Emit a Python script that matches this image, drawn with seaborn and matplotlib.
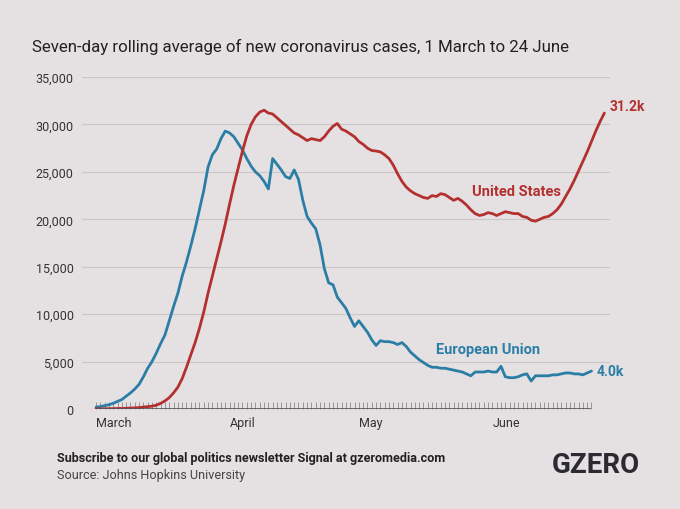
import pandas as pd
import matplotlib
matplotlib.use("Agg")
import matplotlib.pyplot as plt
import matplotlib.dates as mdates
import matplotlib.ticker as mticker
import seaborn as sns

# daily values, starting 1 March
eu_cases = [
    200, 250, 350, 450, 600, 800, 1000, 1350, 1700, 2100,
    2600, 3400, 4300, 5000, 5900, 6900, 7800, 9300, 10800, 12200,
    14000, 15500, 17200, 19000, 21000, 23000, 25500, 26800, 27400, 28500,
    29300, 29100, 28700, 28000, 27300, 26400, 25600, 25000, 24600, 24000,
    23200, 26400, 25800, 25200, 24500, 24300, 25200, 24200, 22000, 20300,
    19600, 19000, 17300, 14800, 13300, 13100, 11800, 11200, 10600, 9600,
    8700, 9300, 8700, 8100, 7300, 6700, 7200, 7100, 7100, 7000,
    6800, 7000, 6600, 6000, 5600, 5200, 4900, 4600, 4400, 4400,
    4300, 4300, 4200, 4100, 4000, 3900, 3700, 3500, 3900, 3900,
    3900, 4000, 3900, 3900, 4500, 3400, 3300, 3300, 3400, 3600,
    3700, 2950, 3500, 3500, 3500, 3500, 3600, 3600, 3700, 3800,
    3800, 3700, 3700, 3600, 3800, 4000,
]
us_cases = [
    10, 15, 20, 30, 40, 50, 60, 80, 100, 120,
    150, 200, 250, 300, 400, 600, 850, 1200, 1700, 2300,
    3200, 4400, 5700, 7000, 8500, 10200, 12200, 14000, 15800, 17600,
    19500, 21600, 23600, 25400, 27200, 28800, 30000, 30800, 31300, 31500,
    31200, 31100, 30700, 30300, 29900, 29500, 29100, 28900, 28600, 28300,
    28500, 28400, 28300, 28700, 29300, 29800, 30100, 29500, 29300, 29000,
    28700, 28200, 27900, 27500, 27250, 27200, 27100, 26800, 26400, 25700,
    24800, 24000, 23400, 23000, 22700, 22500, 22300, 22200, 22500, 22400,
    22700, 22600, 22300, 22000, 22200, 21900, 21500, 21000, 20600, 20400,
    20500, 20700, 20600, 20400, 20600, 20800, 20700, 20600, 20600, 20300,
    20200, 19900, 19800, 20000, 20200, 20300, 20600, 21000, 21600, 22400,
    23200, 24100, 25100, 26100, 27100, 28200, 29300, 30300, 31200,
]
months = ["March", "April", "May", "June"]
month_starts = ["2020-03-01", "2020-04-01", "2020-05-01", "2020-06-01"]
y_ticks = [0, 5000, 10000, 15000, 20000, 25000, 30000, 35000]

eu = pd.DataFrame({"date": pd.date_range("2020-03-01", periods=len(eu_cases)),
                   "cases": eu_cases, "region": "European Union"})
us = pd.DataFrame({"date": pd.date_range("2020-03-01", periods=len(us_cases)),
                   "cases": us_cases, "region": "United States"})
df = pd.concat([eu, us], ignore_index=True)

red = "#b3302f"
blue = "#2a7ea6"
bg = "#e5e1e3"
txt = "#333333"

sns.set_theme(style="white")
plt.rcParams["font.family"] = ["Roboto", "DejaVu Sans"]

fig = plt.figure(figsize=(6.8, 5.1), dpi=100, facecolor=bg)
ax = fig.add_axes([82 / 680, 100 / 510, (610 - 82) / 680, (410 - 78) / 510])
ax.set_facecolor(bg)

sns.lineplot(data=df, x="date", y="cases", hue="region",
             palette={"European Union": blue, "United States": red},
             linewidth=2.0, legend=False, ax=ax, zorder=3)

start = pd.Timestamp("2020-03-01")
end = pd.Timestamp("2020-06-24")
ax.set_xlim(start - pd.Timedelta(days=3.25), start + pd.Timedelta(days=119.3))
ax.set_ylim(0, 35000)

# grid
ax.set_yticks(y_ticks)
ax.yaxis.set_major_formatter(mticker.FuncFormatter(lambda v, p: f"{int(v):,}"))
ax.grid(axis="y", color="#cbc7c9", linewidth=0.8)
ax.grid(axis="x", visible=False)
for s in ax.spines.values():
    s.set_visible(False)

# baseline with daily ticks, 1 March to 24 June only
ax.hlines(0, start, end, color="#555555", linewidth=1.2, zorder=4)
ax.set_xticks(pd.to_datetime(month_starts))
ax.set_xticklabels(months, ha="left")
day_ticks = mdates.date2num(pd.date_range(start, end))
ax.xaxis.set_minor_locator(mticker.FixedLocator(day_ticks))
ax.xaxis.set_minor_formatter(mticker.NullFormatter())
ax.tick_params(axis="x", which="both", bottom=True, direction="in", length=5,
               width=0.6, color="#8a8a8a", labelsize=9, labelcolor=txt, pad=5)
ax.tick_params(axis="y", length=0, labelsize=9, labelcolor=txt, pad=6)
ax.set_xlabel("")
ax.set_ylabel("")

# direct labels
ax.text(us["date"].iloc[-1] + pd.Timedelta(days=1.3), us_cases[-1] + 700, "31.2k",
        color=red, fontsize=10, fontweight="bold", va="center", ha="left")
ax.text(eu["date"].iloc[-1] + pd.Timedelta(days=1.3), eu_cases[-1], "4.0k",
        color=blue, fontsize=10, fontweight="bold", va="center", ha="left")
ax.text(pd.Timestamp("2020-06-01") + pd.Timedelta(days=5.5), 23000, "United States",
        color=red, fontsize=10.5, fontweight="bold", va="center", ha="center")
ax.text(pd.Timestamp("2020-05-01") + pd.Timedelta(days=30), 6300, "European Union",
        color=blue, fontsize=10.5, fontweight="bold", va="center", ha="center")

fig.text(32 / 680, 1 - 47 / 510,
         "Seven-day rolling average of new coronavirus cases, 1 March to 24 June",
         fontsize=12.2, color="#222222", va="center", ha="left")
fig.text(57 / 680, 1 - 459 / 510,
         "Subscribe to our global politics newsletter Signal at gzeromedia.com",
         fontsize=9.1, fontweight="bold", color="#222222", va="center", ha="left")
fig.text(57 / 680, 1 - 476 / 510, "Source: Johns Hopkins University",
         fontsize=9.1, color="#444444", va="center", ha="left")
fig.text(640 / 680, 1 - 466 / 510, "GZERO", fontsize=20, fontweight="bold",
         color="#2b2a30", va="center", ha="right")

fig.savefig("out.png", dpi=100, facecolor=bg)
